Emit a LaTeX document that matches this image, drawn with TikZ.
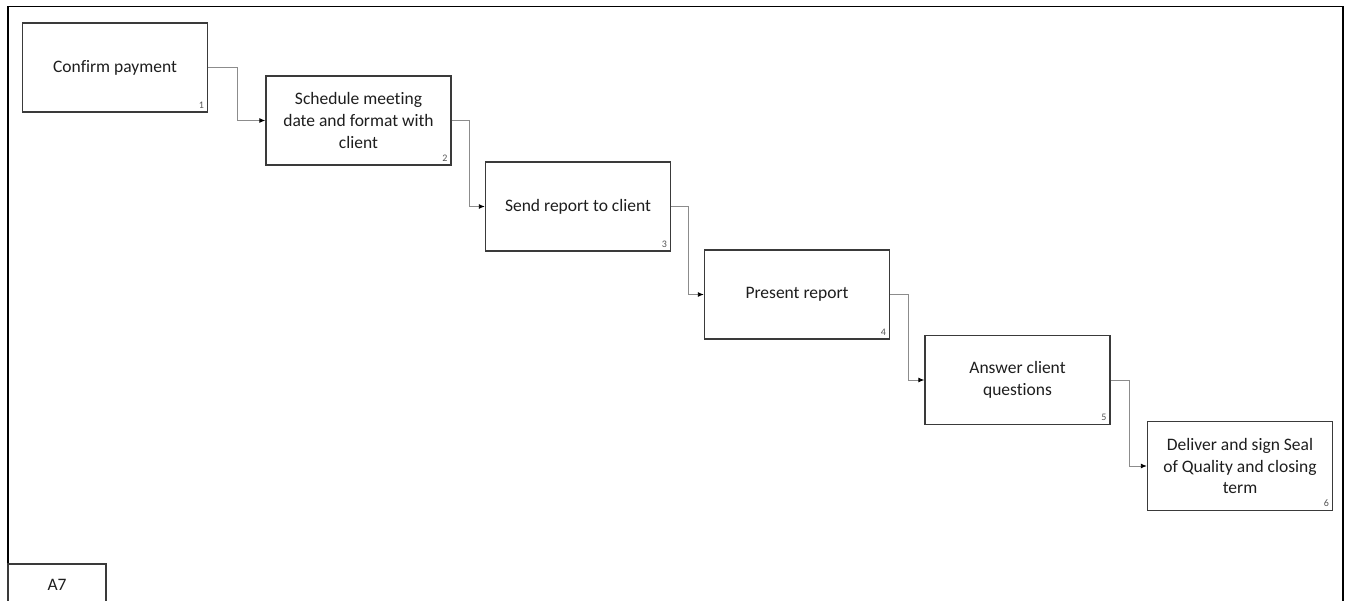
\documentclass[tikz,border=0pt]{standalone}
\usepackage{fontspec}
\setmainfont{Carlito}[Ligatures={NoCommon}]
\usetikzlibrary{arrows.meta,calc}
\definecolor{boxline}{HTML}{3A3A3A}
\definecolor{connline}{HTML}{8C8C8C}
\definecolor{txt}{HTML}{1E1E1E}
\tikzset{
  stepbox/.style={draw=boxline, line width=1.4pt, minimum width=185pt, minimum height=89pt,
    inner sep=0pt, align=center, text=txt,
    font=\fontsize{17.5}{21.7}\selectfont},
  numlabel/.style={font=\fontsize{10}{11}\selectfont, text=txt!75, inner sep=0pt, anchor=south east},
  conn/.style={draw=connline, line width=0.9pt, -{Latex[length=6pt,width=5pt,color=black]}},
  frameline/.style={draw=black, line width=1.8pt}
}
\begin{document}
\begin{tikzpicture}[x=1pt,y=-1pt]
  \useasboundingbox (0,0) rectangle (1346,601);
  \fill[white] (0,0) rectangle (1346,601);
  % outer sheet frame (runs past the lower page edge)
  \draw[frameline] (8,620) -- (8,6.5) -- (1343,6.5) -- (1343,620);
  % diagram label tab
  \draw[boxline, line width=1.1pt] (8,620) -- (8,564) -- (106,564) -- (106,620);
  \node[font=\fontsize{17.5}{20}\selectfont, text=txt] (tag) at (57,585) {A7};

  % activity boxes
  \node[stepbox] (b1) at (115,67.5)   {Confirm payment};
  \node[stepbox] (b2) at (358.5,120.5) {Schedule meeting\\date and format with\\client};
  \node[stepbox] (b3) at (578,206.5)  {Send report to client};
  \node[stepbox] (b4) at (797,294.5)  {Present report};
  \node[stepbox] (b5) at (1017.5,380) {Answer client\\questions};
  \node[stepbox] (b6) at (1240,466)   {Deliver and sign Seal\\of Quality and closing\\term};

  % box numbers
  \foreach \i in {1,...,6}
    \node[numlabel] (n\i) at ($(b\i.south east)+(-4,-4)$) {\i};

  % connectors
  \foreach \a/\b in {1/2,2/3,3/4,4/5,5/6}
    \draw[conn] (b\a.east) -| ($(b\a.east)!.5!(b\b.west)+(1,0)$) |- (b\b.west);
\end{tikzpicture}
\end{document}
